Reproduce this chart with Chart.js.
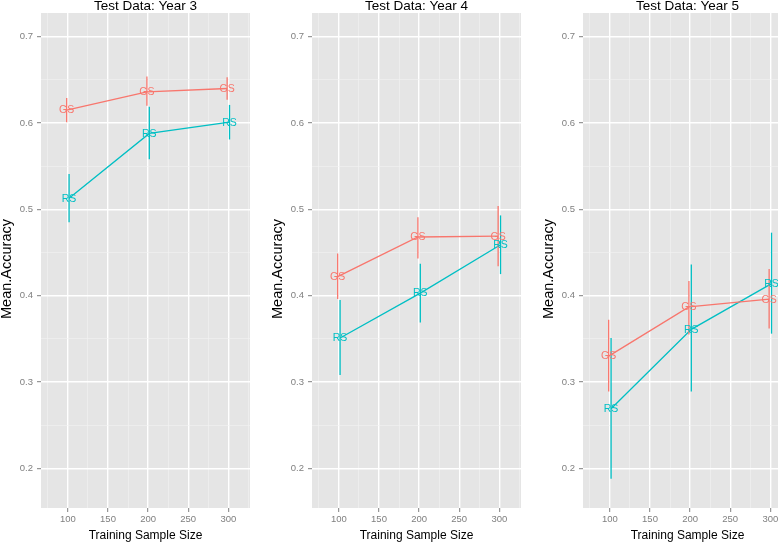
<!DOCTYPE html>
<html>
<head>
<meta charset="utf-8">
<script src="https://cdn.jsdelivr.net/npm/chart.js@4/dist/chart.umd.min.js"></script>
<style>
  html, body { margin: 0; padding: 0; background: #fff; overflow: hidden; width: 778px; height: 542px; }
  .panel { position: absolute; top: 0; width: 271px; height: 542px; }
</style>
</head>
<body>
<div class="panel" style="left:0px"><canvas id="c0" width="271" height="542"></canvas></div>
<div class="panel" style="left:271px"><canvas id="c1" width="271" height="542"></canvas></div>
<div class="panel" style="left:542px"><canvas id="c2" width="271" height="542"></canvas></div>
<script>
// ---- Data ----
const sampleSizes = [100, 200, 300];
const panelTitles = ['Test Data: Year 3', 'Test Data: Year 4', 'Test Data: Year 5'];
const methodLabels = ['GS', 'RS'];

const gsMeanY3 = [0.615, 0.636, 0.640];
const gsLowY3  = [0.601, 0.620, 0.627];
const gsHighY3 = [0.629, 0.654, 0.653];
const rsMeanY3 = [0.513, 0.588, 0.601];
const rsLowY3  = [0.485, 0.558, 0.581];
const rsHighY3 = [0.541, 0.619, 0.621];

const gsMeanY4 = [0.422, 0.468, 0.469];
const gsLowY4  = [0.396, 0.443, 0.434];
const gsHighY4 = [0.449, 0.491, 0.504];
const rsMeanY4 = [0.351, 0.403, 0.459];
const rsLowY4  = [0.308, 0.369, 0.425];
const rsHighY4 = [0.395, 0.437, 0.493];

const gsMeanY5 = [0.330, 0.387, 0.396];
const gsLowY5  = [0.289, 0.355, 0.362];
const gsHighY5 = [0.372, 0.417, 0.431];
const rsMeanY5 = [0.269, 0.361, 0.414];
const rsLowY5  = [0.188, 0.289, 0.356];
const rsHighY5 = [0.351, 0.436, 0.473];

const xTickValues = [75, 100, 125, 150, 175, 200, 225, 250, 275, 300, 325];
const yTickValues = [0.2, 0.25, 0.3, 0.35, 0.4, 0.45, 0.5, 0.55, 0.6, 0.65, 0.7];
const xAxisTitle = 'Training Sample Size';
const yAxisTitle = 'Mean.Accuracy';

// ---- Styling ----
const GS_COLOR = '#F8766D';
const RS_COLOR = '#00BFC4';
const PANEL_BG = '#E5E5E5';
const DODGE = 1.5;
const FONT = '"Liberation Sans", Arial, Helvetica, sans-serif';

const panels = [
  { gs: [gsMeanY3, gsLowY3, gsHighY3], rs: [rsMeanY3, rsLowY3, rsHighY3] },
  { gs: [gsMeanY4, gsLowY4, gsHighY4], rs: [rsMeanY4, rsLowY4, rsHighY4] },
  { gs: [gsMeanY5, gsLowY5, gsHighY5], rs: [rsMeanY5, rsLowY5, rsHighY5] }
];

const isMajorX = v => Math.abs(v % 50) < 1e-6;
const isMajorY = v => Math.abs(Math.round(v * 10) - v * 10) < 1e-6;

const bgPlugin = {
  id: 'panelBg',
  beforeDraw(chart) {
    const a = chart.chartArea, ctx = chart.ctx;
    ctx.save();
    ctx.fillStyle = PANEL_BG;
    ctx.fillRect(a.left, a.top, a.right - a.left, a.bottom - a.top);
    ctx.restore();
  }
};

const textPlugin = {
  id: 'pointText',
  afterDatasetsDraw(chart) {
    const ctx = chart.ctx;
    ctx.save();
    ctx.font = '10.5px ' + FONT;
    ctx.textAlign = 'center';
    ctx.textBaseline = 'middle';
    chart.data.datasets.forEach((ds, i) => {
      if (!ds.pointText) return;
      const meta = chart.getDatasetMeta(i);
      ctx.fillStyle = ds.borderColor;
      meta.data.forEach(el => ctx.fillText(ds.pointText, el.x, el.y + 0.5));
    });
    const a = chart.chartArea;
    ctx.fillStyle = '#000';
    // panel title
    ctx.font = '13.5px ' + FONT;
    ctx.textBaseline = 'alphabetic';
    ctx.fillText(chart.options.panelTitle, (a.left + a.right) / 2, 10);
    // y axis title
    ctx.font = '14.5px ' + FONT;
    ctx.translate(11, (a.top + a.bottom) / 2 + 8.5);
    ctx.rotate(-Math.PI / 2);
    ctx.fillText(yAxisTitle, 0, 0);
    ctx.restore();
  }
};

function buildDatasets(p) {
  const ds = [];
  const groups = [[p.gs, GS_COLOR, methodLabels[0], -DODGE], [p.rs, RS_COLOR, methodLabels[1], DODGE]];
  groups.forEach(([vals, color, label, off]) => {
    const [mean, low, high] = vals;
    ds.push({
      label: label,
      pointText: label,
      data: sampleSizes.map((x, i) => ({ x: x + off, y: mean[i] })),
      borderColor: color,
      backgroundColor: color,
      borderWidth: 1.3,
      pointRadius: 0,
      showLine: true,
      tension: 0
    });
    sampleSizes.forEach((x, i) => {
      ds.push({
        label: label + ' error',
        data: [{ x: x + off, y: low[i] }, { x: x + off, y: high[i] }],
        borderColor: color,
        backgroundColor: color,
        borderWidth: 1.3,
        pointRadius: 0,
        showLine: true
      });
    });
  });
  return ds;
}

panels.forEach((p, idx) => {
  new Chart(document.getElementById('c' + idx), {
    type: 'line',
    data: { datasets: buildDatasets(p) },
    options: {
      panelTitle: panelTitles[idx],
      responsive: false,
      animation: false,
      events: [],
      layout: { padding: { top: 13, right: 21, left: 0, bottom: 0 } },
      plugins: { legend: { display: false }, tooltip: { enabled: false }, title: { display: false } },
      scales: {
        x: {
          type: 'linear',
          min: 66.5,
          max: 327,
          afterBuildTicks: s => { s.ticks = xTickValues.map(v => ({ value: v })); },
          afterFit: s => { s.height = 34; },
          border: { display: false },
          grid: {
            color: c => isMajorX(c.tick.value) ? '#FFFFFF' : '#F2F2F2',
            lineWidth: c => isMajorX(c.tick.value) ? 1.4 : 0.6,
            tickColor: c => isMajorX(c.tick.value) ? '#7F7F7F' : 'rgba(0,0,0,0)',
            tickWidth: 1,
            tickLength: 4,
            drawTicks: true
          },
          ticks: {
            autoSkip: false,
            maxRotation: 0,
            padding: 2,
            color: '#7F7F7F',
            font: { family: FONT, size: 9.5 },
            callback: v => isMajorX(v) ? String(v) : ''
          },
          title: {
            display: true,
            text: xAxisTitle,
            color: '#000',
            font: { family: FONT, size: 12, lineHeight: 1.2 },
            padding: { top: 0, bottom: -0.5 }
          }
        },
        y: {
          type: 'linear',
          min: 0.154,
          max: 0.7275,
          afterBuildTicks: s => { s.ticks = yTickValues.map(v => ({ value: v })); },
          afterFit: s => { s.width = 41; },
          border: { display: false },
          grid: {
            color: c => isMajorY(c.tick.value) ? '#FFFFFF' : '#F2F2F2',
            lineWidth: c => isMajorY(c.tick.value) ? 1.4 : 0.6,
            tickColor: c => isMajorY(c.tick.value) ? '#7F7F7F' : 'rgba(0,0,0,0)',
            tickWidth: 1,
            tickLength: 4,
            drawTicks: true
          },
          ticks: {
            autoSkip: false,
            padding: 4,
            color: '#7F7F7F',
            font: { family: FONT, size: 9.5 },
            callback: v => isMajorY(v) ? v.toFixed(1) : ''
          },
          title: { display: false }
        }
      }
    },
    plugins: [bgPlugin, textPlugin]
  });
});
</script>
</body>
</html>
